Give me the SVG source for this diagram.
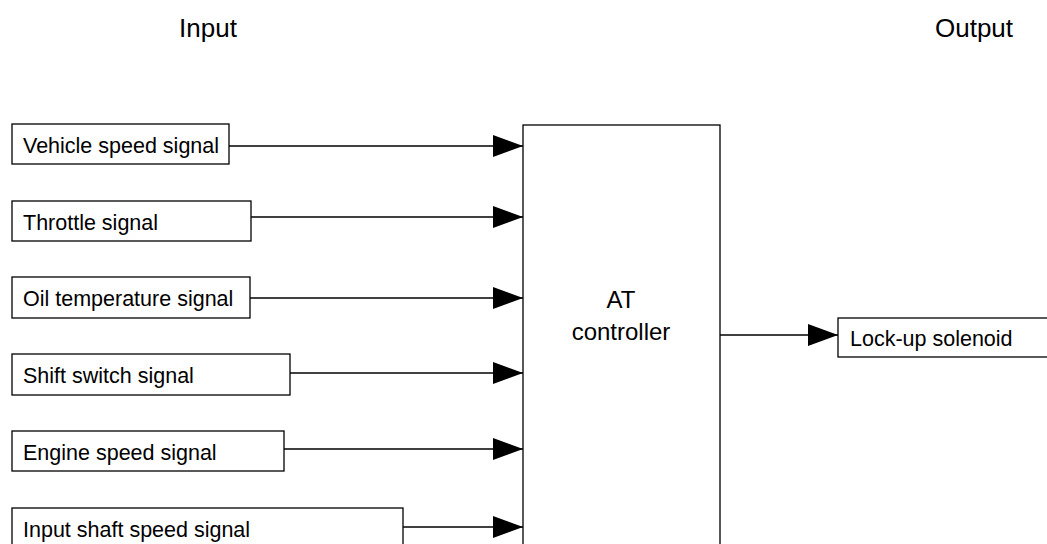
<svg xmlns="http://www.w3.org/2000/svg" width="1047" height="544" viewBox="0 0 1047 544">
<style>
.box{fill:#fff;stroke:#000;stroke-width:1.3}
.lbl{font-family:"Liberation Sans",Arial,sans-serif;font-size:21.5px;fill:#000}
.title{font-family:"Liberation Sans",Arial,sans-serif;font-size:26px;fill:#000;text-anchor:middle}
.ctl{font-family:"Liberation Sans",Arial,sans-serif;font-size:24px;fill:#000;text-anchor:middle}
.conn{stroke:#000;stroke-width:1.3;fill:none;marker-end:url(#arr)}
</style>
<defs>
<marker id="arr" markerUnits="userSpaceOnUse" markerWidth="30" markerHeight="24" refX="30" refY="12" orient="auto">
<path d="M0,1 L30,12 L0,23 Z" fill="#000"/>
</marker>
</defs>
<rect width="1047" height="544" fill="#fff"/>
<text class="title" x="208" y="37">Input</text>
<text class="title" x="974" y="37">Output</text>
<g id="controller">
<rect class="box" x="523" y="125" width="197" height="430"/>
<text class="ctl" x="621" y="308">AT</text>
<text class="ctl" x="621" y="340">controller</text>
</g>
<g id="vehicle-speed">
<rect class="box" x="12" y="124" width="217" height="40"/>
<text class="lbl" x="23" y="152.5">Vehicle speed signal</text>
</g>
<g id="throttle">
<rect class="box" x="12" y="201" width="239" height="40"/>
<text class="lbl" x="23" y="229.5">Throttle signal</text>
</g>
<g id="oil-temp">
<rect class="box" x="12" y="277" width="238" height="41"/>
<text class="lbl" x="23" y="305.5">Oil temperature signal</text>
</g>
<g id="shift-switch">
<rect class="box" x="12" y="354" width="278" height="41"/>
<text class="lbl" x="23" y="382.5">Shift switch signal</text>
</g>
<g id="engine-speed">
<rect class="box" x="12" y="431" width="272" height="40"/>
<text class="lbl" x="23" y="459.5">Engine speed signal</text>
</g>
<g id="input-shaft">
<rect class="box" x="12" y="508" width="391" height="50"/>
<text class="lbl" x="23" y="536.5">Input shaft speed signal</text>
</g>
<g id="lockup">
<rect class="box" x="838" y="318" width="220" height="39"/>
<text class="lbl" x="850" y="345.5">Lock-up solenoid</text>
</g>
<g id="connectors">
<line class="conn" x1="229" y1="146" x2="523" y2="146"/>
<line class="conn" x1="251" y1="217" x2="523" y2="217"/>
<line class="conn" x1="250" y1="298" x2="523" y2="298"/>
<line class="conn" x1="290" y1="373" x2="523" y2="373"/>
<line class="conn" x1="284" y1="449" x2="523" y2="449"/>
<line class="conn" x1="403" y1="527" x2="523" y2="527"/>
<line class="conn" x1="720" y1="335" x2="838" y2="335"/>
</g>
</svg>
